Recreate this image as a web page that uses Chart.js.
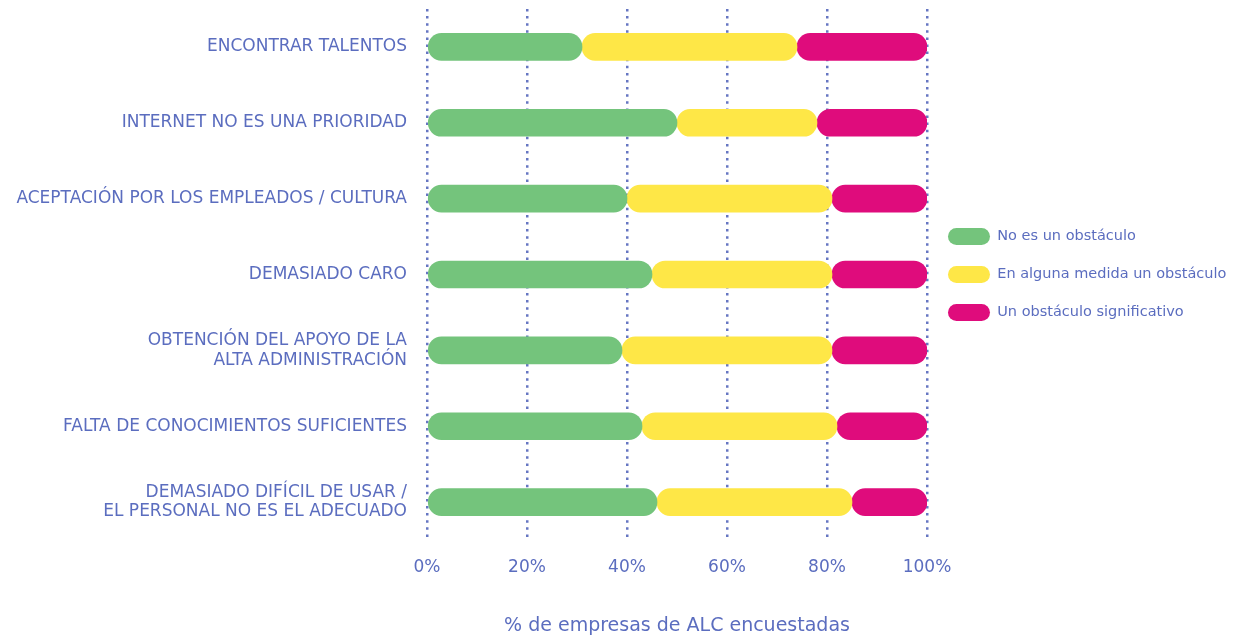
<!DOCTYPE html>
<html>
<head>
<meta charset="utf-8">
<script src="https://cdn.jsdelivr.net/npm/chart.js@4/dist/chart.umd.min.js"></script>
<style>
  html, body { margin: 0; padding: 0; background: #fff; }
  #wrap { width: 1237px; height: 637px; position: relative; }
</style>
</head>
<body>
<div id="wrap"><canvas id="chart"></canvas></div>
<script>
const categories = [
  "ENCONTRAR TALENTOS",
  "INTERNET NO ES UNA PRIORIDAD",
  "ACEPTACIÓN POR LOS EMPLEADOS / CULTURA",
  "DEMASIADO CARO",
  ["OBTENCIÓN DEL APOYO DE LA", "ALTA ADMINISTRACIÓN"],
  "FALTA DE CONOCIMIENTOS SUFICIENTES",
  ["DEMASIADO DIFÍCIL DE USAR /", "EL PERSONAL NO ES EL ADECUADO"]
]
const noObstacle = [31, 50, 40, 45, 39, 43, 46]
const someObstacle = [43, 28, 41, 36, 42, 39, 39]
const bigObstacle = [26, 22, 19, 19, 19, 18, 15]
const xTicks = [0, 20, 40, 60, 80, 100]

const textColor = "#5b6dbf"
const gridColor = "#6676c2"
const font = "'DejaVu Sans', sans-serif"

// each segment is its own floating bar so every piece gets fully rounded ends
const series = [noObstacle, someObstacle, bigObstacle]
const ranges = series.map((vals, s) => vals.map((v, i) => {
  let start = 0
  for (let k = 0; k < s; k++) start += series[k][i]
  return [start, start + v]
}))

const makeSet = (label, data, color) => ({
  label,
  data,
  backgroundColor: color,
  borderRadius: 14,
  borderSkipped: false,
  barThickness: 27,
  grouped: false
})

new Chart(document.getElementById("chart"), {
  type: "bar",
  data: {
    labels: categories,
    datasets: [
      makeSet("No es un obstáculo", ranges[0], "#74c47c"),
      makeSet("En alguna medida un obstáculo", ranges[1], "#fee747"),
      makeSet("Un obstáculo significativo", ranges[2], "#df0c7c")
    ]
  },
  options: {
    indexAxis: "y",
    responsive: true,
    maintainAspectRatio: false,
    animation: false,
    layout: { padding: { top: 9, right: 1, left: 0 } },
    plugins: {
      tooltip: { enabled: false },
      legend: {
        position: "right",
        fullSize: false,
        labels: {
          color: textColor,
          font: { family: font, size: 14.5 },
          boxWidth: 42,
          boxHeight: 17,
          useBorderRadius: true,
          borderRadius: 8.5,
          padding: 21
        }
      }
    },
    scales: {
      x: {
        min: 0,
        max: 100,
        afterBuildTicks: (axis) => { axis.ticks = xTicks.map(v => ({ value: v })) },
        afterFit: (axis) => { axis.height = 97 },
        ticks: {
          color: textColor,
          font: { family: font, size: 17 },
          padding: 17,
          callback: (v) => v + "%"
        },
        grid: { color: gridColor, lineWidth: 2.5, drawTicks: false },
        border: { display: false, dash: [2.5, 4.6] },
        title: {
          display: true,
          text: "% de empresas de ALC encuestadas",
          color: textColor,
          font: { family: font, size: 19 },
          padding: { top: 29, bottom: 0 }
        }
      },
      y: {
        grid: { display: false, drawTicks: false },
        border: { display: false },
        afterFit: (axis) => {
          axis.width = 427
          axis.paddingTop = 0
          axis.paddingBottom = 0
        },
        ticks: {
          color: textColor,
          font: { family: font, size: 17, lineHeight: 1.15 },
          padding: 20
        }
      }
    }
  }
})
</script>
</body>
</html>
